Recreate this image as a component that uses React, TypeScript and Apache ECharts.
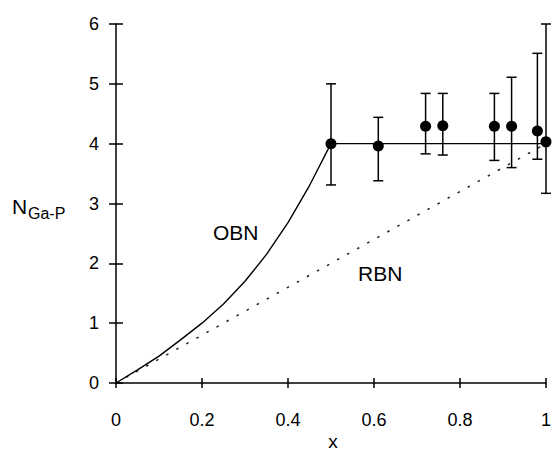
import React, { useEffect, useRef } from "react";
import * as echarts from "echarts";

// Measured points with error bars
const xPts = [0.5, 0.61, 0.72, 0.76, 0.88, 0.92, 0.98, 1.0];
const nPts = [4.0, 3.96, 4.29, 4.3, 4.29, 4.29, 4.21, 4.03];
const errHi = [5.0, 4.44, 4.84, 4.84, 4.84, 5.11, 5.51, 6.0];
const errLo = [3.31, 3.38, 3.83, 3.81, 3.72, 3.6, 3.74, 3.17];

// OBN model curve (solid)
const obnX = [0, 0.05, 0.1, 0.15, 0.2, 0.25, 0.3, 0.35, 0.4, 0.45, 0.5, 1.0];
const obnY = [0, 0.22, 0.45, 0.72, 1.0, 1.32, 1.7, 2.15, 2.68, 3.3, 4.0, 4.0];

// RBN model (dotted)
const rbnX = [0, 1.0];
const rbnY = [0, 4.0];

const FONT = "'Liberation Sans', Arial, Helvetica, sans-serif";

export default function App() {
  const ref = useRef<HTMLDivElement>(null);
  useEffect(() => {
    if (!ref.current) return;
    const chart = echarts.init(ref.current, undefined, { renderer: "svg" });
    const errData = xPts.map((x, i) => [x, errLo[i], errHi[i]]);
    const axisLineStyle = { color: "#000", width: 1.5 };
    const option: any = {
      animation: false,
      backgroundColor: "#fff",
      textStyle: { fontFamily: FONT },
      grid: { left: 116, right: 4, top: 24, bottom: 69, containLabel: false },
      xAxis: [
        {
          type: "value",
          min: 0,
          max: 1,
          interval: 0.2,
          position: "bottom",
          axisLine: { show: true, onZero: false, lineStyle: axisLineStyle },
          axisTick: { show: true, inside: false, length: 5, lineStyle: axisLineStyle },
          axisLabel: { color: "#000", fontSize: 18, margin: 28, fontFamily: FONT },
          splitLine: { show: false },
        },
        {
          type: "value",
          min: 0,
          max: 1,
          interval: 0.2,
          position: "bottom",
          axisLine: { show: false, onZero: false },
          axisTick: { show: true, inside: true, length: 5, lineStyle: axisLineStyle },
          axisLabel: { show: false },
          splitLine: { show: false },
        },
      ],
      yAxis: [
        {
          type: "value",
          min: 0,
          max: 6,
          interval: 1,
          position: "left",
          axisLine: { show: true, onZero: false, lineStyle: axisLineStyle },
          axisTick: { show: true, inside: false, length: 7, lineStyle: axisLineStyle },
          axisLabel: { color: "#000", fontSize: 18, margin: 17, fontFamily: FONT },
          splitLine: { show: false },
        },
        {
          type: "value",
          min: 0,
          max: 6,
          interval: 1,
          position: "left",
          axisLine: { show: false, onZero: false },
          axisTick: { show: true, inside: true, length: 7, lineStyle: axisLineStyle },
          axisLabel: { show: false },
          splitLine: { show: false },
        },
      ],
      series: [
        {
          name: "RBN",
          type: "line",
          data: rbnX.map((x, i) => [x, rbnY[i]]),
          showSymbol: false,
          symbol: "none",
          lineStyle: { color: "#222", width: 1.5, type: [2.5, 9] },
          z: 1,
        },
        {
          name: "OBN",
          type: "line",
          data: obnX.map((x, i) => [x, obnY[i]]),
          showSymbol: false,
          symbol: "none",
          smooth: false,
          lineStyle: { color: "#000", width: 1.4 },
          z: 2,
        },
        {
          name: "err",
          type: "custom",
          data: errData,
          z: 3,
          renderItem: (params: any, api: any) => {
            const x = api.value(0);
            const lo = api.coord([x, api.value(1)]);
            const hi = api.coord([x, api.value(2)]);
            const hw = 5;
            const st = { stroke: "#000", lineWidth: 1.5 };
            return {
              type: "group",
              children: [
                { type: "line", shape: { x1: lo[0], y1: lo[1], x2: hi[0], y2: hi[1] }, style: st },
                { type: "line", shape: { x1: lo[0] - hw, y1: lo[1], x2: lo[0] + hw, y2: lo[1] }, style: st },
                { type: "line", shape: { x1: hi[0] - hw, y1: hi[1], x2: hi[0] + hw, y2: hi[1] }, style: st },
              ],
            };
          },
        },
        {
          name: "data",
          type: "scatter",
          data: xPts.map((x, i) => [x, nPts[i]]),
          symbol: "circle",
          symbolSize: 11,
          itemStyle: { color: "#000", opacity: 1 },
          z: 4,
        },
      ],
      graphic: [
        {
          type: "text",
          left: 12,
          top: 196,
          style: { text: "N", font: `21px ${FONT}`, fill: "#000" },
        },
        {
          type: "text",
          left: 28,
          top: 205,
          style: { text: "Ga-P", font: `16px ${FONT}`, fill: "#000" },
        },
        {
          type: "text",
          left: 213,
          top: 222,
          style: { text: "OBN", font: `21px ${FONT}`, fill: "#000" },
        },
        {
          type: "text",
          left: 358,
          top: 263,
          style: { text: "RBN", font: `21px ${FONT}`, fill: "#000" },
        },
        {
          type: "text",
          x: 333,
          y: 441,
          style: {
            text: "x",
            font: `19px ${FONT}`,
            fill: "#000",
            align: "center",
            verticalAlign: "middle",
          },
        },
      ],
    };
    chart.setOption(option);
    return () => chart.dispose();
  }, []);
  return <div ref={ref} style={{ width: 554, height: 452, position: "absolute", left: 0, top: 0, background: "#fff" }} />;
}
